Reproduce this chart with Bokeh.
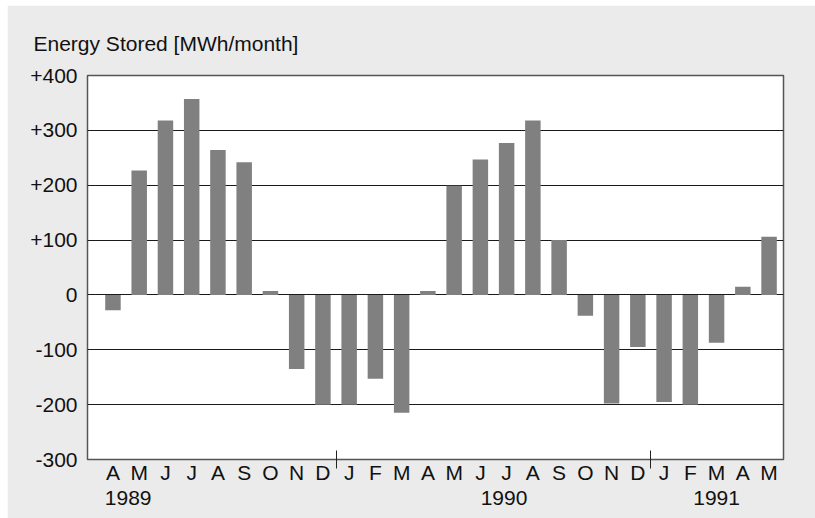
from bokeh.plotting import figure
from bokeh.models import Range1d, FixedTicker, LinearAxis
from bokeh.embed import file_html
from bokeh.resources import INLINE

# ---- data ----
months = ["A", "M", "J", "J", "A", "S", "O", "N", "D",
          "J", "F", "M", "A", "M", "J", "J", "A", "S", "O", "N", "D",
          "J", "F", "M", "A", "M"]
energy = [-28, 227, 318, 357, 264, 242, 7, -135, -200,
          -200, -153, -215, 7, 199, 247, 277, 318, 100, -38, -198, -95,
          -195, -200, -87, 15, 106]
years = ["1989", "1990", "1991"]
year_label_pos = [0.58, 14.9, 23.0]
year_breaks = [8.5, 20.5]
y_ticks = [-300, -200, -100, 0, 100, 200, 300, 400]
y_tick_labels = ["-300", "-200", "-100", "0", "+100", "+200", "+300", "+400"]
title_text = "Energy Stored [MWh/month]"

FONT = "Liberation Sans"
FS = "21px"
BG = "#ebebeb"
TXT = "#111111"

x = list(range(len(energy)))

p = figure(width=808, height=513, output_backend="svg", toolbar_location=None,
           x_range=Range1d(-0.97, 25.55), y_range=Range1d(-300, 400),
           min_border_left=80, min_border_right=32, min_border_top=70,
           min_border_bottom=59)
p.margin = (5, 0, 0, 7)
p.background_fill_color = "white"
p.border_fill_color = BG
p.outline_line_color = "#555555"
p.outline_line_width = 1.5

p.vbar(x=x, top=energy, bottom=0, width=0.59, fill_color="#808080", line_color=None)

# grid
p.xgrid.visible = False
p.ygrid.ticker = FixedTicker(ticks=y_ticks)
p.ygrid.grid_line_color = "#1a1a1a"
p.ygrid.grid_line_width = 1

# y axis
ya = p.yaxis[0]
ya.ticker = FixedTicker(ticks=y_ticks)
ya.major_label_overrides = {t: l for t, l in zip(y_ticks, y_tick_labels)}
ya.axis_line_color = None
ya.major_tick_line_color = None
ya.minor_tick_line_color = None
ya.major_tick_out = 0
ya.major_tick_in = 0
ya.major_label_standoff = 10
ya.major_label_text_font = FONT
ya.major_label_text_font_size = FS
ya.major_label_text_color = TXT

# x axis (months)
xa = p.xaxis[0]
xa.ticker = FixedTicker(ticks=x, minor_ticks=year_breaks)
xa.major_label_overrides = {i: m for i, m in zip(x, months)}
xa.axis_line_color = None
xa.major_tick_line_color = None
xa.major_tick_out = 0
xa.major_tick_in = 0
xa.minor_tick_line_color = "#222222"
xa.minor_tick_in = 9
xa.minor_tick_out = 9
xa.major_label_standoff = -8
xa.major_label_text_font = FONT
xa.major_label_text_font_size = FS
xa.major_label_text_color = TXT

# year axis
ya2 = LinearAxis(ticker=FixedTicker(ticks=year_label_pos),
                 major_label_overrides={v: y for v, y in zip(year_label_pos, years)})
ya2.axis_line_color = None
ya2.major_tick_line_color = None
ya2.minor_tick_line_color = None
ya2.major_tick_out = 0
ya2.major_tick_in = 0
ya2.major_label_standoff = 4
ya2.major_label_text_font = FONT
ya2.major_label_text_font_size = FS
ya2.major_label_text_color = TXT
p.add_layout(ya2, "below")

# title
p.title.text = title_text
p.title.align = "left"
p.title.offset = -54
p.title.standoff = 41
p.title.text_font = FONT
p.title.text_font_size = FS
p.title.text_font_style = "normal"
p.title.text_color = TXT

open("out.html", "w").write(file_html(p, INLINE))
